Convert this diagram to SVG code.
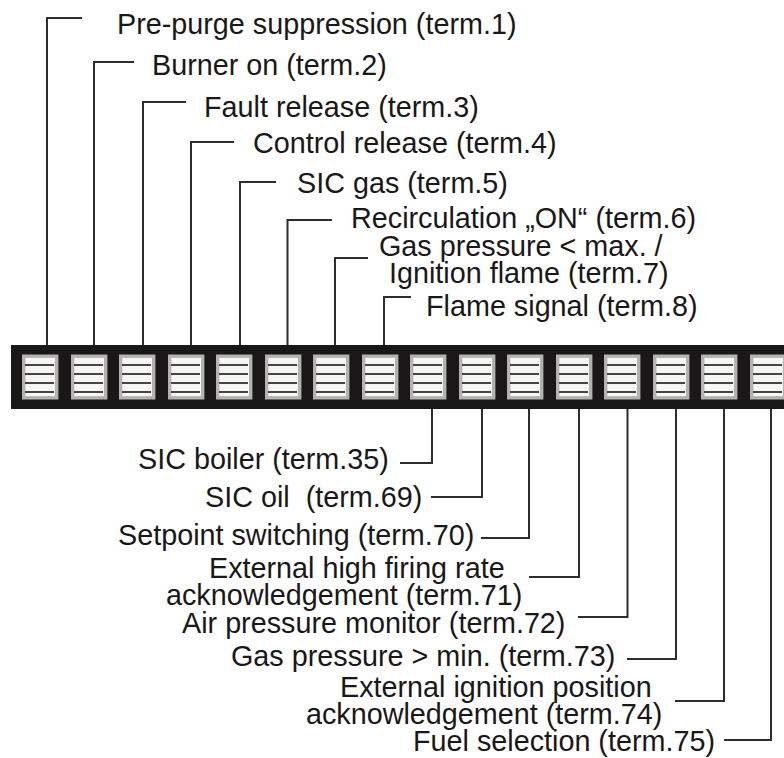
<svg xmlns="http://www.w3.org/2000/svg" width="784" height="758" viewBox="0 0 784 758">
<style>
text{font-family:"Liberation Sans",Arial,sans-serif;font-size:28.75px;fill:#1a1718}
.c{fill:none;stroke:#2f2c2d;stroke-width:2}
.box{fill:#f6f6f4;stroke:#b3b3b1;stroke-width:3.4}
.sl{stroke:#464444;stroke-width:1.8;fill:none}
</style>
<defs>
<g id="t">
<rect class="box" x="1.7" y="1.7" width="33" height="41.6"/>
<path class="sl" d="M3 10.500H32M3 19.500H32M3 28.500H32M3 37.500H32"/>
</g>
</defs>
<g id="connectors">
<path class="c" d="M47 345V18H82"/>
<path class="c" d="M94 345V62H134"/>
<path class="c" d="M143 345V102H186"/>
<path class="c" d="M191 345V142H234"/>
<path class="c" d="M240 345V182H276"/>
<path class="c" d="M287.500 345V220H332"/>
<path class="c" d="M335 345V258H368"/>
<path class="c" d="M384 345V297H411"/>
<path class="c" d="M432 409V463H400"/>
<path class="c" d="M482 409V497H431"/>
<path class="c" d="M529 409V538H481"/>
<path class="c" d="M579 409V577H529"/>
<path class="c" d="M627.500 409V617H578"/>
<path class="c" d="M676 409V659H627"/>
<path class="c" d="M724 409V701H675"/>
<path class="c" d="M771 409V740H724"/>
</g>
<g id="bar"><rect x="11" y="345" width="773" height="64" fill="#1a1718"/></g>
<g id="terminals">
<use href="#t" x="22" y="354.500"/><use href="#t" x="71" y="354.500"/><use href="#t" x="119" y="354.500"/><use href="#t" x="168" y="354.500"/>
<use href="#t" x="216" y="354.500"/><use href="#t" x="265" y="354.500"/><use href="#t" x="313" y="354.500"/><use href="#t" x="362" y="354.500"/>
<use href="#t" x="410" y="354.500"/><use href="#t" x="459" y="354.500"/><use href="#t" x="507" y="354.500"/><use href="#t" x="556" y="354.500"/>
<use href="#t" x="604" y="354.500"/><use href="#t" x="653" y="354.500"/><use href="#t" x="701" y="354.500"/><use href="#t" x="750" y="354.500"/>
</g>
<g id="labels">
<text x="117" y="34">Pre-purge suppression (term.1)</text>
<text x="152" y="75">Burner on (term.2)</text>
<text x="204" y="117">Fault release (term.3)</text>
<text x="253" y="153">Control release (term.4)</text>
<text x="297" y="193">SIC gas (term.5)</text>
<text x="351" y="228">Recirculation „ON“ (term.6)</text>
<text x="379" y="256">Gas pressure &lt; max. /</text>
<text x="389" y="283">Ignition flame (term.7)</text>
<text x="426" y="316">Flame signal (term.8)</text>
<text x="138" y="469">SIC boiler (term.35)</text>
<text x="205" y="507" xml:space="preserve">SIC oil  (term.69)</text>
<text x="118" y="545">Setpoint switching (term.70)</text>
<text x="209" y="578">External high firing rate</text>
<text x="166" y="605">acknowledgement (term.71)</text>
<text x="182" y="633">Air pressure monitor (term.72)</text>
<text x="231" y="666">Gas pressure &gt; min. (term.73)</text>
<text x="340" y="697">External ignition position</text>
<text x="306" y="724">acknowledgement (term.74)</text>
<text x="413" y="751">Fuel selection (term.75)</text>
</g>
</svg>
